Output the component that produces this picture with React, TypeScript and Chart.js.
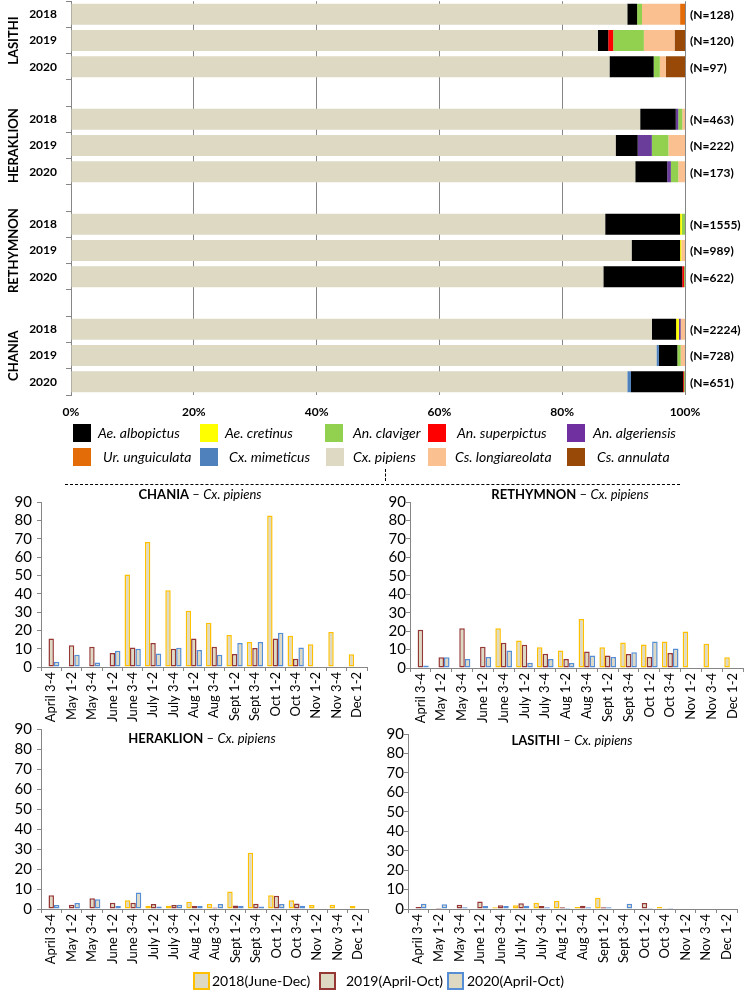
import React, { useEffect, useRef } from "react";
import { Chart, registerables } from "chart.js";
Chart.register(...registerables);

const FONT = "Lato, 'Open Sans', sans-serif";

// ---------- Top chart: species composition ----------
const ROW_LABELS = ["2018", "2019", "2020", "", "2018", "2019", "2020", "", "2018", "2019", "2020", "", "2018", "2019", "2020"];
const REGION_LABELS = ["LASITHI", "HERAKLION", "RETHYMNON", "CHANIA"];
const N_LABELS = ["(N=128)", "(N=120)", "(N=97)", "", "(N=463)", "(N=222)", "(N=173)", "", "(N=1555)", "(N=989)", "(N=622)", "", "(N=2224)", "(N=728)", "(N=651)"];

const CX_PIPIENS = [90.6, 85.8, 87.7, null, 92.7, 88.7, 91.9, null, 87.0, 91.3, 86.7, null, 94.6, 95.35, 90.6];
const CX_MIMETICUS = [0, 0, 0, null, 0, 0, 0, null, 0, 0, 0, null, 0, 0.4, 0.6];
const AE_ALBOPICTUS = [1.6, 1.7, 7.2, null, 5.8, 3.6, 5.2, null, 12.2, 7.9, 12.85, null, 3.95, 3.0, 8.5];
const AE_CRETINUS = [0, 0, 0, null, 0, 0, 0, null, 0.3, 0.2, 0, null, 0.45, 0, 0];
const AN_SUPERPICTUS = [0, 0.8, 0, null, 0, 0, 0, null, 0, 0, 0.3, null, 0, 0, 0.15];
const AN_ALGERIENSIS = [0, 0, 0, null, 0.4, 2.3, 0.6, null, 0, 0, 0, null, 0.3, 0, 0];
const AN_CLAVIGER = [0.8, 5.0, 1.0, null, 0.65, 2.7, 1.2, null, 0.5, 0, 0.15, null, 0, 0.55, 0.15];
const CS_LONGIAREOLATA = [6.2, 5.0, 1.0, null, 0.45, 2.7, 1.1, null, 0, 0.6, 0, null, 0.7, 0.7, 0];
const UR_UNGUICULATA = [0.8, 0, 0, null, 0, 0, 0, null, 0, 0, 0, null, 0, 0, 0];
const CS_ANNULATA = [0, 1.7, 3.1, null, 0, 0, 0, null, 0, 0, 0, null, 0, 0, 0];

const SPECIES = [
  { label: "Cx. pipiens", data: CX_PIPIENS, color: "#ddd9c3" },
  { label: "Cx. mimeticus", data: CX_MIMETICUS, color: "#4f81bd" },
  { label: "Ae. albopictus", data: AE_ALBOPICTUS, color: "#000000" },
  { label: "Ae. cretinus", data: AE_CRETINUS, color: "#ffff00" },
  { label: "An. superpictus", data: AN_SUPERPICTUS, color: "#ff0000" },
  { label: "An. algeriensis", data: AN_ALGERIENSIS, color: "#6a3d9a" },
  { label: "An. claviger", data: AN_CLAVIGER, color: "#92d050" },
  { label: "Cs. longiareolata", data: CS_LONGIAREOLATA, color: "#fac090" },
  { label: "Ur. unguiculata", data: UR_UNGUICULATA, color: "#e36c09" },
  { label: "Cs. annulata", data: CS_ANNULATA, color: "#984807" },
];

// ---------- Small charts: Cx. pipiens per fortnight ----------
const PERIODS = ["April 3-4", "May 1-2", "May 3-4", "June 1-2", "June 3-4", "July 1-2", "July 3-4", "Aug 1-2", "Aug 3-4", "Sept 1-2", "Sept 3-4", "Oct 1-2", "Oct 3-4", "Nov 1-2", "Nov 3-4", "Dec 1-2"];

const CHANIA_2018 = [null, null, null, null, 50.5, 68.2, 41.8, 30.7, 24.2, 17.5, 13.6, 82.7, 17.1, 12.4, 19.1, 6.9];
const CHANIA_2019 = [15.5, 11.8, 11.1, 7.6, 10.7, 13.1, 10.0, 15.5, 11.1, 7.1, 10.4, 15.5, 4.5, null, null, null];
const CHANIA_2020 = [2.9, 6.7, 2.4, 8.9, 10.0, 7.3, 10.5, 9.3, 6.7, 13.1, 13.6, 18.7, 10.7, null, null, null];

const RETHYMNON_2018 = [null, null, null, null, 21.6, 14.9, 11.3, 9.5, 26.6, 11.3, 13.8, 12.8, 14.4, 19.8, 13.1, 5.8];
const RETHYMNON_2019 = [20.7, 5.8, 21.6, 11.5, 13.7, 12.6, 7.7, 4.9, 9.0, 6.8, 7.6, 5.9, 8.1, null, null, null];
const RETHYMNON_2020 = [1.3, 5.8, 4.9, 5.9, 9.5, 2.9, 4.9, 2.7, 6.8, 5.9, 8.5, 14.4, 10.6, null, null, null];

const HERAKLION_2018 = [null, null, null, null, 4.4, 1.6, 1.6, 3.6, 2.6, 8.7, 28.1, 6.9, 4.4, 2.0, 2.1, 1.5];
const HERAKLION_2019 = [6.9, 2.1, 5.4, 3.1, 3.1, 2.5, 2.0, 1.5, 0.8, 1.8, 2.6, 6.6, 2.8, null, null, null];
const HERAKLION_2020 = [2.0, 3.0, 4.9, 1.5, 8.2, 1.2, 2.1, 1.5, 2.5, 1.5, 1.2, 2.5, 1.6, null, null, null];

const LASITHI_2018 = [null, null, null, null, 0.9, 1.9, 3.2, 4.3, 1.0, 5.8, 0.3, 0.3, 1.0, null, null, null];
const LASITHI_2019 = [1.0, 0.5, 2.2, 3.9, 1.9, 2.9, 1.5, 0.9, 1.7, 0.9, 0.3, 3.1, 0.4, null, null, null];
const LASITHI_2020 = [2.7, 2.4, 0.9, 1.5, 1.5, 1.7, 0.9, 0.5, 0.9, 0.9, 2.7, 0.5, 0.5, null, null, null];

const YEAR_SERIES = [
  { label: "2018(June-Dec)", border: "#ffc000" },
  { label: "2019(April-Oct)", border: "#953735" },
  { label: "2020(April-Oct)", border: "#558ed5" },
];

const AXIS_GREY = "#868686";
const BEIGE = "#ddd9c3";

function TopChart() {
  const ref = useRef<HTMLCanvasElement>(null);
  useEffect(() => {
    const labelsPlugin = {
      id: "topLabels",
      afterDraw(chart: any) {
        const ctx = chart.ctx;
        const y = chart.scales.y;
        ctx.save();
        ctx.fillStyle = "#000";
        ctx.textBaseline = "middle";
        ctx.font = `bold 13px ${FONT}`;
        ctx.textAlign = "center";
        REGION_LABELS.forEach((r, i) => {
          const cy = y.getPixelForValue(i * 4 + 1);
          ctx.save();
          ctx.translate(14, cy);
          ctx.rotate(-Math.PI / 2);
          ctx.fillText(r, 0, 0);
          ctx.restore();
        });
        ctx.font = `bold 12px ${FONT}`;
        ctx.textAlign = "left";
        N_LABELS.forEach((t, i) => {
          if (t) ctx.fillText(t, chart.chartArea.right + 5, y.getPixelForValue(i) + 1);
        });
        ctx.restore();
      },
    };
    const chart = new Chart(ref.current!, {
      type: "bar",
      data: {
        labels: ROW_LABELS,
        datasets: SPECIES.map((s) => ({
          label: s.label,
          data: s.data as any,
          backgroundColor: s.color,
          borderWidth: 0,
          barPercentage: 0.8,
          categoryPercentage: 1,
        })),
      },
      options: {
        indexAxis: "y",
        responsive: false,
        animation: false,
        layout: { padding: { top: 0, right: 65, left: 0, bottom: 0 } },
        plugins: { legend: { display: false }, tooltip: { enabled: false } },
        scales: {
          x: {
            stacked: true,
            min: 0,
            max: 100,
            ticks: {
              stepSize: 20,
              callback: (v: any) => v + "%",
              font: { family: FONT, size: 12, weight: "bold" },
              color: "#000",
              padding: 10,
            },
            grid: { color: AXIS_GREY, drawTicks: false },
            border: { display: false },
            afterFit: (s: any) => {
              s.height = 35;
            },
          },
          y: {
            stacked: true,
            ticks: { font: { family: FONT, size: 12, weight: "bold" }, color: "#000", padding: 9, autoSkip: false },
            grid: { drawOnChartArea: false, tickLength: 5, color: AXIS_GREY, offset: true },
            border: { color: AXIS_GREY },
            afterFit: (s: any) => {
              s.width = 71;
            },
          },
        },
      },
      plugins: [labelsPlugin],
    });
    return () => chart.destroy();
  }, []);
  return <canvas ref={ref} width={750} height={445} style={{ position: "absolute", left: 0, top: -15 }} />;
}

type SmallProps = {
  region: string;
  d18: (number | null)[];
  d19: (number | null)[];
  d20: (number | null)[];
  left: number;
  top: number;
  height: number;
  padTop: number;
  padRight: number;
  yWidth: number;
  xHeight: number;
  yPad: number;
  titleX: number;
  titleY: number;
};

function SmallChart(p: SmallProps) {
  const ref = useRef<HTMLCanvasElement>(null);
  useEffect(() => {
    const titlePlugin = {
      id: "regionTitle",
      afterDraw(chart: any) {
        const ctx = chart.ctx;
        ctx.save();
        ctx.fillStyle = "#000";
        ctx.textBaseline = "middle";
        ctx.textAlign = "left";
        const a = p.region;
        const b = " – ";
        const c = "Cx. pipiens";
        ctx.font = `bold 13px ${FONT}`;
        const wa = ctx.measureText(a).width;
        ctx.font = `13px ${FONT}`;
        const wb = ctx.measureText(b).width;
        ctx.font = `italic 13px ${FONT}`;
        const wc = ctx.measureText(c).width;
        let x = p.titleX - (wa + wb + wc) / 2;
        ctx.font = `bold 13px ${FONT}`;
        ctx.fillText(a, x, p.titleY);
        x += wa;
        ctx.font = `13px ${FONT}`;
        ctx.fillText(b, x, p.titleY);
        x += wb;
        ctx.font = `italic 13px ${FONT}`;
        ctx.fillText(c, x, p.titleY);
        ctx.restore();
      },
    };
    const series = [p.d18, p.d19, p.d20];
    const chart = new Chart(ref.current!, {
      type: "bar",
      data: {
        labels: PERIODS,
        datasets: YEAR_SERIES.map((s, i) => ({
          label: s.label,
          data: series[i] as any,
          backgroundColor: BEIGE,
          borderColor: s.border,
          borderWidth: 1.5,
          borderSkipped: false,
          categoryPercentage: 0.8,
          barPercentage: 1,
        })),
      },
      options: {
        responsive: false,
        animation: false,
        layout: { padding: { top: p.padTop, right: p.padRight, left: 0, bottom: 0 } },
        plugins: { legend: { display: false }, tooltip: { enabled: false } },
        scales: {
          x: {
            ticks: {
              minRotation: 90,
              maxRotation: 90,
              autoSkip: false,
              font: { family: FONT, size: 13 },
              color: "#000",
              padding: 1,
            },
            grid: { drawOnChartArea: false, tickLength: 4, color: AXIS_GREY, offset: true },
            border: { color: AXIS_GREY },
            afterFit: (s: any) => {
              s.height = p.xHeight;
            },
          },
          y: {
            min: 0,
            max: 90,
            ticks: { stepSize: 10, autoSkip: false, font: { family: FONT, size: 15 }, color: "#000", padding: p.yPad },
            grid: { drawOnChartArea: false, tickLength: 4, color: AXIS_GREY },
            border: { color: AXIS_GREY },
            afterFit: (s: any) => {
              s.width = p.yWidth;
            },
          },
        },
      },
      plugins: [titlePlugin],
    });
    return () => chart.destroy();
  }, []);
  return (
    <canvas
      ref={ref}
      width={375}
      height={p.height}
      style={{ position: "absolute", left: p.left, top: p.top }}
    />
  );
}

const box = (left: number, top: number, w: number, h: number, bg: string, border?: string): React.CSSProperties => ({
  position: "absolute",
  left,
  top,
  width: w,
  height: h,
  background: bg,
  boxSizing: "border-box",
  border: border ? `2px solid ${border}` : "none",
});

const txt = (left: number, top: number, italic: boolean, size: number): React.CSSProperties => ({
  position: "absolute",
  left,
  top,
  fontFamily: FONT,
  fontStyle: italic ? "italic" : "normal",
  fontSize: size,
  lineHeight: "18px",
  whiteSpace: "nowrap",
  color: "#000",
});

const LEGEND_POS = [
  { sp: "Ae. albopictus", bx: 73, tx: 98, row: 0 },
  { sp: "Ae. cretinus", bx: 200, tx: 225, row: 0 },
  { sp: "An. claviger", bx: 325, tx: 353, row: 0 },
  { sp: "An. superpictus", bx: 428, tx: 457, row: 0 },
  { sp: "An. algeriensis", bx: 567, tx: 593, row: 0 },
  { sp: "Ur. unguiculata", bx: 73, tx: 103, row: 1 },
  { sp: "Cx. mimeticus", bx: 200, tx: 229, row: 1 },
  { sp: "Cx. pipiens", bx: 326, tx: 353, row: 1 },
  { sp: "Cs. longiareolata", bx: 428, tx: 455, row: 1 },
  { sp: "Cs. annulata", bx: 567, tx: 597, row: 1 },
];

const LEGEND_PURPLE = "#7030a0";

export default function App() {
  const rowTop = [424, 448];
  return (
    <div style={{ position: "absolute", left: 0, top: 0, width: 750, height: 1000, background: "#fff", overflow: "hidden" }}>
      <TopChart />
      {LEGEND_POS.map((l) => {
        const s = SPECIES.find((x) => x.label === l.sp)!;
        const color = l.sp === "An. algeriensis" ? LEGEND_PURPLE : s.color;
        return (
          <React.Fragment key={l.sp}>
            <div style={box(l.bx, rowTop[l.row], 18, 18, color)} />
            <div style={txt(l.tx, rowTop[l.row], true, 14)}>{l.sp}</div>
          </React.Fragment>
        );
      })}
      <div style={{ position: "absolute", left: 65, top: 484, width: 615, borderTop: "1px dashed #000" }} />
      <div style={{ position: "absolute", left: 385, top: 469, height: 12, borderLeft: "1px dashed #000" }} />

      <SmallChart region="CHANIA" d18={CHANIA_2018} d19={CHANIA_2019} d20={CHANIA_2020}
        left={0} top={485} height={245} padTop={17} padRight={8} yWidth={41} xHeight={63} yPad={5} titleX={200} titleY={10} />
      <SmallChart region="RETHYMNON" d18={RETHYMNON_2018} d19={RETHYMNON_2019} d20={RETHYMNON_2020}
        left={375} top={485} height={245} padTop={17} padRight={7} yWidth={35} xHeight={62} yPad={0} titleX={195} titleY={10} />
      <SmallChart region="HERAKLION" d18={HERAKLION_2018} d19={HERAKLION_2019} d20={HERAKLION_2020}
        left={0} top={715} height={255} padTop={12} padRight={6} yWidth={41} xHeight={61} yPad={5} titleX={202} titleY={24} />
      <SmallChart region="LASITHI" d18={LASITHI_2018} d19={LASITHI_2019} d20={LASITHI_2020}
        left={375} top={715} height={255} padTop={19} padRight={13} yWidth={33} xHeight={61} yPad={0} titleX={197} titleY={26} />

      {YEAR_SERIES.map((s, i) => {
        const bx = [193, 319, 447][i];
        const tx = [212, 346, 467][i];
        return (
          <React.Fragment key={s.label}>
            <div style={box(bx, 972, 17, 18, BEIGE, s.border)} />
            <div style={txt(tx, 972, false, 14)}>{s.label}</div>
          </React.Fragment>
        );
      })}
    </div>
  );
}
